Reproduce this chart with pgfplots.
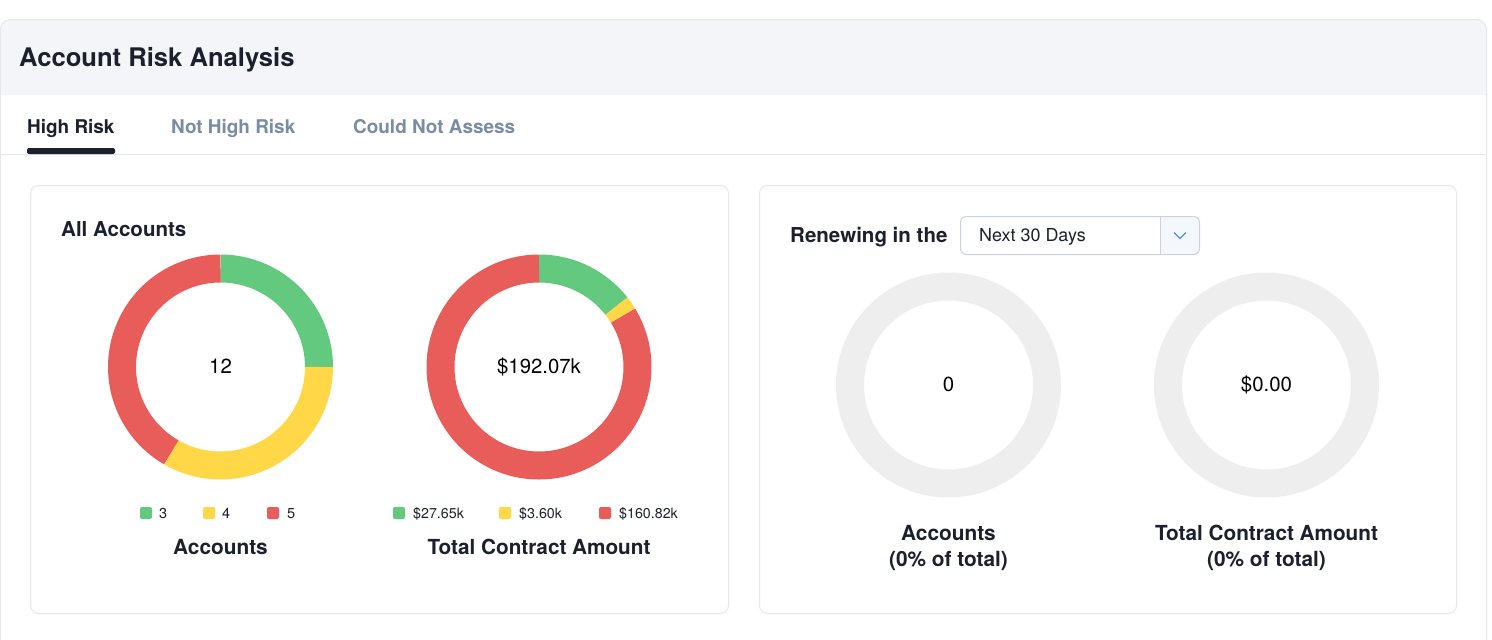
\documentclass[border=0pt]{standalone}
\usepackage{pgfplots}
\pgfplotsset{compat=1.18}
\usepackage{pgfplotstable}
\usepackage{fontspec}
\setmainfont{TeX Gyre Heros}
\definecolor{cgreen}{HTML}{63C97E}
\definecolor{cyellow}{HTML}{FFD747}
\definecolor{cred}{HTML}{E85D5A}
\definecolor{cgray}{HTML}{EEEEEE}
\definecolor{headbg}{HTML}{F4F5F8}
\definecolor{bordercol}{HTML}{E4E7EB}
\definecolor{darktxt}{HTML}{1A202C}
\definecolor{tabgray}{HTML}{7A8CA3}
\definecolor{ddborder}{HTML}{C9D3E0}
\definecolor{ddfill}{HTML}{F4F8FD}
\definecolor{chev}{HTML}{4A8FE0}

\pgfplotstableread{
seg value
1 3
2 4
3 5
}\acctab
\pgfplotstableread{
seg value
1 27.65
2 3.60
3 160.82
}\amttab

\newcommand{\fs}[1]{\fontsize{#1}{#1}\selectfont}

\begin{document}%
\begin{tikzpicture}
\pgfplotstablegetelem{0}{value}\of\acctab\edef\accA{\pgfplotsretval}
\pgfplotstablegetelem{1}{value}\of\acctab\edef\accB{\pgfplotsretval}
\pgfplotstablegetelem{2}{value}\of\acctab\edef\accC{\pgfplotsretval}
\pgfmathsetmacro\accT{\accA+\accB+\accC}
\pgfmathsetmacro\accEa{360*\accA/\accT}
\pgfmathsetmacro\accEb{360*(\accA+\accB)/\accT}
\pgfplotstablegetelem{0}{value}\of\amttab\edef\amtA{\pgfplotsretval}
\pgfplotstablegetelem{1}{value}\of\amttab\edef\amtB{\pgfplotsretval}
\pgfplotstablegetelem{2}{value}\of\amttab\edef\amtC{\pgfplotsretval}
\pgfmathsetmacro\amtT{\amtA+\amtB+\amtC}
\pgfmathsetmacro\amtEa{360*\amtA/\amtT}
\pgfmathsetmacro\amtEb{360*(\amtA+\amtB)/\amtT}
\begin{axis}[
  at={(0,0)}, anchor=south west,
  scale only axis, width=1492bp, height=640bp,
  xmin=0, xmax=1492, ymin=0, ymax=640, y dir=reverse,
  hide axis, ticks=none, clip=false, no markers]
% background
\fill[white] (axis cs:0,0) rectangle (axis cs:1492,640);
% header band
\fill[headbg] (axis cs:0.5,95) [rounded corners=10bp] -- (axis cs:0.5,19.5) -- (axis cs:1486.5,19.5) [sharp corners] -- (axis cs:1486.5,95) -- cycle;
\draw[bordercol, line width=1bp, rounded corners=10bp] (axis cs:0.5,640) -- (axis cs:0.5,19.5) -- (axis cs:1486.5,19.5) -- (axis cs:1486.5,640);
\node[anchor=base west, inner sep=0, text=darktxt] at (axis cs:19,66) {\fs{25.7}\bfseries Account Risk Analysis};
% tabs
\node[anchor=base west, inner sep=0, text=darktxt] at (axis cs:27,133) {\fs{19}\bfseries High Risk};
\node[anchor=base west, inner sep=0, text=tabgray] at (axis cs:171,133) {\fs{19}\bfseries Not High Risk};
\node[anchor=base west, inner sep=0, text=tabgray] at (axis cs:353,133) {\fs{19}\bfseries Could Not Assess};
\draw[bordercol, line width=1bp] (axis cs:0.5,154.5) -- (axis cs:1486.5,154.5);
\fill[darktxt, rounded corners=2bp] (axis cs:27,148) rectangle (axis cs:115,154);
% cards
\draw[bordercol, line width=1bp, rounded corners=8bp] (axis cs:30.5,185.5) rectangle (axis cs:728.5,613.5);
\draw[bordercol, line width=1bp, rounded corners=8bp] (axis cs:759.5,185.5) rectangle (axis cs:1456.5,613.5);
\node[anchor=base west, inner sep=0, text=darktxt] at (axis cs:61,236) {\fs{20.6}\bfseries All Accounts};
% donut 1: accounts
\addplot[draw=cgreen, line width=28bp, domain=0:\accEa, samples=80, variable=\t] ({220.5+98.5*sin(\t)},{367-98.5*cos(\t)});
\addplot[draw=cyellow, line width=28bp, domain=\accEa:\accEb, samples=80, variable=\t] ({220.5+98.5*sin(\t)},{367-98.5*cos(\t)});
\addplot[draw=cred, line width=28bp, domain=\accEb:360, samples=80, variable=\t] ({220.5+98.5*sin(\t)},{367-98.5*cos(\t)});
\node[anchor=base, inner sep=0, text=black] at (axis cs:220.5,373) {\fs{20.5}12};
% donut 2: amounts
\addplot[draw=cgreen, line width=28bp, domain=0:\amtEa, samples=60, variable=\t] ({539+98.5*sin(\t)},{367-98.5*cos(\t)});
\addplot[draw=cyellow, line width=28bp, domain=\amtEa:\amtEb, samples=20, variable=\t] ({539+98.5*sin(\t)},{367-98.5*cos(\t)});
\addplot[draw=cred, line width=28bp, domain=\amtEb:360, samples=150, variable=\t] ({539+98.5*sin(\t)},{367-98.5*cos(\t)});
\node[anchor=base, inner sep=0, text=black] at (axis cs:539,373) {\fs{20.4}\$192.07k};
% legends
\fill[cgreen, rounded corners=2bp] (axis cs:140,507) rectangle (axis cs:152,519);
\node[anchor=base west, inner sep=0, text=darktxt] at (axis cs:159,518.5) {\fs{14.5}3};
\fill[cyellow, rounded corners=2bp] (axis cs:203,507) rectangle (axis cs:215,519);
\node[anchor=base west, inner sep=0, text=darktxt] at (axis cs:222,518.5) {\fs{14.5}4};
\fill[cred, rounded corners=2bp] (axis cs:267,507) rectangle (axis cs:279,519);
\node[anchor=base west, inner sep=0, text=darktxt] at (axis cs:287,518.5) {\fs{14.5}5};
\fill[cgreen, rounded corners=2bp] (axis cs:393,507) rectangle (axis cs:405,519);
\node[anchor=base west, inner sep=0, text=darktxt] at (axis cs:413,518.5) {\fs{14.3}\$27.65k};
\fill[cyellow, rounded corners=2bp] (axis cs:499,507) rectangle (axis cs:511,519);
\node[anchor=base west, inner sep=0, text=darktxt] at (axis cs:519,518.5) {\fs{14.3}\$3.60k};
\fill[cred, rounded corners=2bp] (axis cs:599,507) rectangle (axis cs:611,519);
\node[anchor=base west, inner sep=0, text=darktxt] at (axis cs:619,518.5) {\fs{14.3}\$160.82k};
\node[anchor=base, inner sep=0, text=darktxt] at (axis cs:220.5,554) {\fs{20.9}\bfseries Accounts};
\node[anchor=base, inner sep=0, text=darktxt] at (axis cs:539,554) {\fs{20.8}\bfseries Total Contract Amount};
% right card
\node[anchor=base west, inner sep=0, text=darktxt] at (axis cs:790,242) {\fs{20.6}\bfseries Renewing in the};
\fill[ddfill] (axis cs:1160,217) [rounded corners=6bp] -- (axis cs:1199,217) -- (axis cs:1199,254) [sharp corners] -- (axis cs:1160,254) -- cycle;
\draw[ddborder, line width=1bp, rounded corners=6bp] (axis cs:960.5,216.5) rectangle (axis cs:1199.5,254.5);
\draw[ddborder, line width=1bp] (axis cs:1160.5,217) -- (axis cs:1160.5,254);
\draw[chev, line width=1.2bp] (axis cs:1174,232.5) -- (axis cs:1180,238.5) -- (axis cs:1186,232.5);
\node[anchor=base west, inner sep=0, text=darktxt] at (axis cs:979,241) {\fs{18}Next 30 Days};
% empty donuts
\addplot[draw=cgray, line width=28bp, domain=0:360, samples=180, variable=\t] ({948.5+98.5*sin(\t)},{385-98.5*cos(\t)});
\addplot[draw=cgray, line width=28bp, domain=0:360, samples=180, variable=\t] ({1266.5+98.5*sin(\t)},{385-98.5*cos(\t)});
\node[anchor=base, inner sep=0, text=black] at (axis cs:948.5,391) {\fs{20.5}0};
\node[anchor=base, inner sep=0, text=black] at (axis cs:1266.5,391) {\fs{20.5}\$0.00};
\node[anchor=base, inner sep=0, text=darktxt] at (axis cs:948.5,540) {\fs{20.9}\bfseries Accounts};
\node[anchor=base, inner sep=0, text=darktxt] at (axis cs:948.5,566) {\fs{20.9}\bfseries (0\% of total)};
\node[anchor=base, inner sep=0, text=darktxt] at (axis cs:1266.5,540) {\fs{20.8}\bfseries Total Contract Amount};
\node[anchor=base, inner sep=0, text=darktxt] at (axis cs:1266.5,566) {\fs{20.9}\bfseries (0\% of total)};
\end{axis}
\pgfresetboundingbox
\path[use as bounding box] (0,0) rectangle (1492bp,640bp);
\end{tikzpicture}%
\end{document}
